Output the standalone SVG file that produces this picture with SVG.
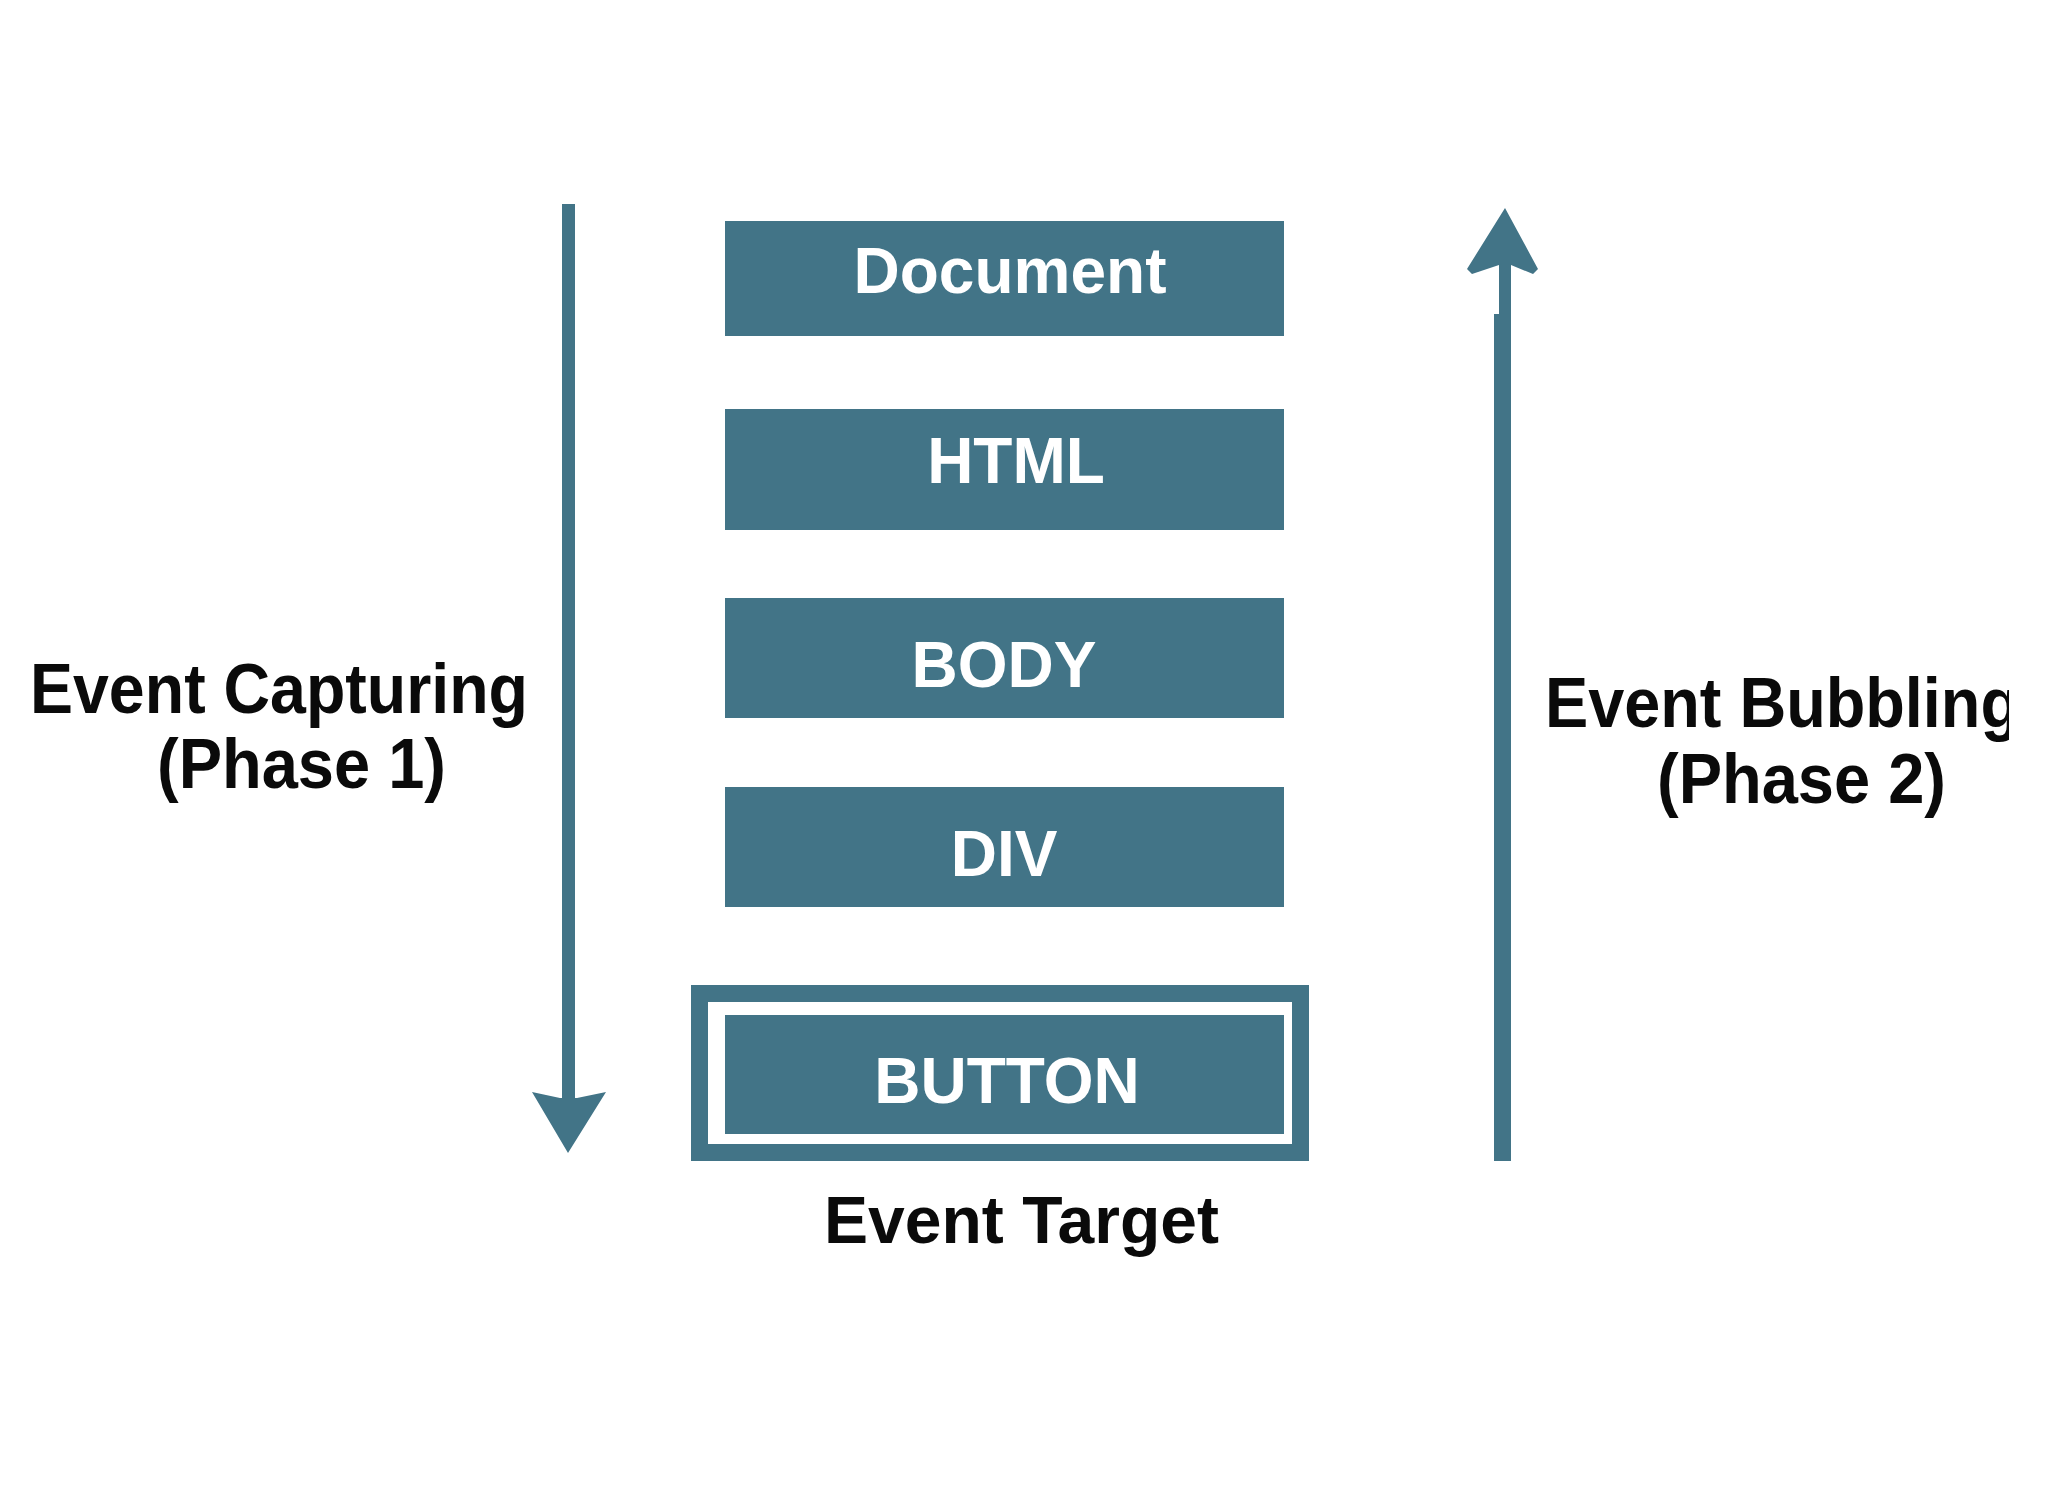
<svg xmlns="http://www.w3.org/2000/svg" width="2072" height="1508" viewBox="0 0 2072 1508">
  <style>
    .box { fill: #427487; }
    .gap { fill: #ffffff; }
    .boxtext { fill: #ffffff; font-family: "Liberation Sans", Arial, sans-serif; font-weight: bold; font-size: 64px; text-anchor: middle; }
    .label { fill: #0a0a0a; font-family: "Liberation Sans", Arial, sans-serif; font-weight: bold; font-size: 70px; }
    .shaft { stroke: #427487; fill: none; }
    .head { fill: #427487; }
  </style>
  <defs>
    <clipPath id="rightClip">
      <rect x="0" y="0" width="2009" height="1508"/>
    </clipPath>
  </defs>
  <rect x="0" y="0" width="2072" height="1508" fill="#ffffff"/>

  <g id="connectors">
    <g id="capturing-arrow">
      <line class="shaft" x1="568.5" y1="204" x2="568.5" y2="1100" stroke-width="13"/>
      <polygon class="head" points="532,1092 560,1098 577,1098 606,1092 568,1153"/>
    </g>
    <g id="bubbling-arrow">
      <line class="shaft" x1="1502.5" y1="1161" x2="1502.5" y2="314" stroke-width="17"/>
      <line class="shaft" x1="1505" y1="316" x2="1505" y2="260" stroke-width="12"/>
      <polygon class="head" points="1505,208 1538,269 1533,274 1511,265 1499,265 1472,274 1467,269"/>
    </g>
  </g>

  <g id="node-document">
    <rect class="box" x="725" y="221" width="559" height="115"/>
    <text class="boxtext" x="1010" y="293">Document</text>
  </g>
  <g id="node-html">
    <rect class="box" x="725" y="409" width="559" height="121"/>
    <text class="boxtext" x="1016" y="483">HTML</text>
  </g>
  <g id="node-body">
    <rect class="box" x="725" y="598" width="559" height="120"/>
    <text class="boxtext" x="1004" y="687">BODY</text>
  </g>
  <g id="node-div">
    <rect class="box" x="725" y="787" width="559" height="120"/>
    <text class="boxtext" x="1004" y="876">DIV</text>
  </g>
  <g id="node-button">
    <rect class="box" x="691" y="985" width="618" height="176"/>
    <rect class="gap" x="708" y="1002" width="584" height="142"/>
    <rect class="box" x="725" y="1015" width="559" height="119"/>
    <text class="boxtext" x="1007" y="1103">BUTTON</text>
  </g>

  <g id="label-capturing">
    <text class="label" x="30" y="713" textLength="498" lengthAdjust="spacingAndGlyphs">Event Capturing</text>
    <text class="label" x="157" y="788" textLength="289" lengthAdjust="spacingAndGlyphs">(Phase 1)</text>
  </g>
  <g id="label-bubbling" clip-path="url(#rightClip)">
    <text class="label" x="1545" y="727" textLength="475" lengthAdjust="spacingAndGlyphs">Event Bubbling</text>
    <text class="label" x="1657" y="803" textLength="289" lengthAdjust="spacingAndGlyphs">(Phase 2)</text>
  </g>
  <g id="label-target">
    <text class="label" x="824" y="1243" style="font-size:67px" textLength="395" lengthAdjust="spacingAndGlyphs">Event Target</text>
  </g>
</svg>
